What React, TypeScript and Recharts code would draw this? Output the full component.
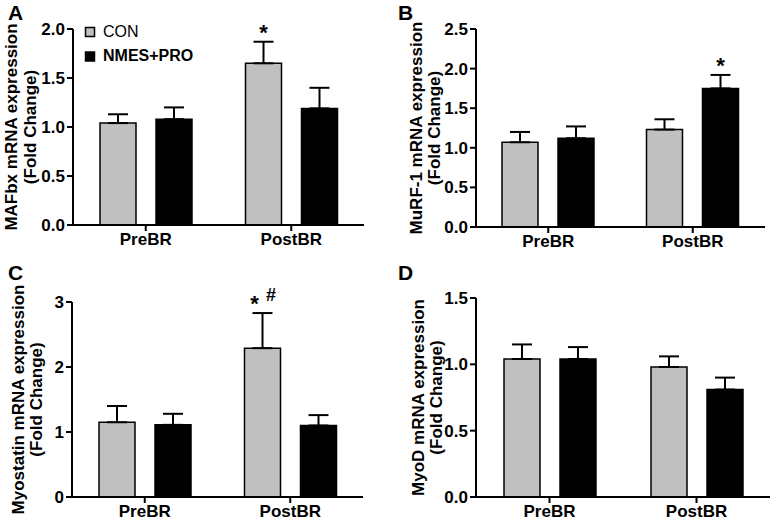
import { BarChart, Bar, XAxis, YAxis, ErrorBar, LabelList, Legend } from 'recharts';

const FONT = '"Liberation Sans", Arial, Helvetica, sans-serif';
const GRAY = '#c0c0c0';

const groups = ['PreBR', 'PostBR'];

// A - MAFbx
const mafbxCon = [1.04, 1.65];
const mafbxConSem = [0.09, 0.22];
const mafbxPro = [1.08, 1.19];
const mafbxProSem = [0.12, 0.21];
const mafbxConMarks = ['', '*'];
const mafbxProMarks = ['', ''];

// B - MuRF-1
const murfCon = [1.07, 1.23];
const murfConSem = [0.13, 0.13];
const murfPro = [1.12, 1.75];
const murfProSem = [0.15, 0.17];
const murfConMarks = ['', ''];
const murfProMarks = ['', '*'];

// C - Myostatin
const mstnCon = [1.15, 2.29];
const mstnConSem = [0.25, 0.54];
const mstnPro = [1.11, 1.1];
const mstnProSem = [0.17, 0.16];
const mstnConMarks = ['', '* #'];
const mstnProMarks = ['', ''];

// D - MyoD
const myodCon = [1.04, 0.98];
const myodConSem = [0.11, 0.08];
const myodPro = [1.04, 0.81];
const myodProSem = [0.09, 0.09];
const myodConMarks = ['', ''];
const myodProMarks = ['', ''];

const ticksA = [0, 0.5, 1, 1.5, 2];
const ticksB = [0, 0.5, 1, 1.5, 2, 2.5];
const ticksC = [0, 1, 2, 3];
const ticksD = [0, 0.5, 1, 1.5];

type Panel = {
  letter: string;
  title: string;
  con: number[];
  conSem: number[];
  pro: number[];
  proSem: number[];
  conMarks: string[];
  proMarks: string[];
  ticks: number[];
  decimals: number;
  left: number;
  top: number;
  width: number;
  height: number;
  margin: { top: number; right: number; bottom: number; left: number };
  titleX: [number, number];
  legend?: boolean;
};

const panels: Panel[] = [
  {
    letter: 'A', title: 'MAFbx mRNA expression',
    con: mafbxCon, conSem: mafbxConSem, pro: mafbxPro, proSem: mafbxProSem,
    conMarks: mafbxConMarks, proMarks: mafbxProMarks,
    ticks: ticksA, decimals: 1,
    left: 0, top: 0, width: 390, height: 260,
    margin: { top: 29, right: 26, bottom: 15, left: 13 },
    titleX: [17, 36], legend: true,
  },
  {
    letter: 'B', title: 'MuRF-1 mRNA expression',
    con: murfCon, conSem: murfConSem, pro: murfPro, proSem: murfProSem,
    conMarks: murfConMarks, proMarks: murfProMarks,
    ticks: ticksB, decimals: 1,
    left: 390, top: 0, width: 387, height: 260,
    margin: { top: 29, right: 12, bottom: 13, left: 26 },
    titleX: [32, 50],
  },
  {
    letter: 'C', title: 'Myostatin mRNA expression',
    con: mstnCon, conSem: mstnConSem, pro: mstnPro, proSem: mstnProSem,
    conMarks: mstnConMarks, proMarks: mstnProMarks,
    ticks: ticksC, decimals: 0,
    left: 0, top: 260, width: 390, height: 261,
    margin: { top: 42, right: 27, bottom: 4, left: 12 },
    titleX: [24, 42],
  },
  {
    letter: 'D', title: 'MyoD mRNA expression',
    con: myodCon, conSem: myodConSem, pro: myodPro, proSem: myodProSem,
    conMarks: myodConMarks, proMarks: myodProMarks,
    ticks: ticksD, decimals: 1,
    left: 390, top: 260, width: 387, height: 261,
    margin: { top: 38, right: 7, bottom: 4, left: 26 },
    titleX: [34, 51.5],
  },
];

// significance marks sit just above the error bar cap
function markRenderer(values: number[], sems: number[]) {
  return (props: any) => {
    const { x, y, width, height, value, index } = props;
    if (!value) return null;
    const capY = y - (sems[index] * height) / values[index];
    const cx = x + width / 2;
    const style = { fontFamily: FONT, fontWeight: 700, fill: '#000' };
    if (value === '* #') {
      return (
        <g>
          <text x={cx - 8} y={capY - 2} textAnchor="middle" fontSize={22} style={style}>*</text>
          <text x={cx + 8.5} y={capY - 12} textAnchor="middle" fontSize={18} style={style}>#</text>
        </g>
      );
    }
    return (
      <text x={cx} y={capY - 2} textAnchor="middle" fontSize={22} style={style}>
        {value}
      </text>
    );
  };
}

function renderLegend(props: any) {
  const items = props.payload || [];
  return (
    <svg width={130} height={45} style={{ display: 'block' }}>
      {items.map((entry: any, i: number) => (
        <g key={entry.value}>
          <rect x={1.5} y={3.5 + i * 24.5} width={9} height={9} fill={i === 0 ? GRAY : '#000'} stroke="#000" strokeWidth={1.5} />
          <text x={19} y={12.7 + i * 24.5} fontSize={16} fontWeight={i === 1 ? 700 : 400} fontFamily={FONT} fill="#000">
            {entry.value}
          </text>
        </g>
      ))}
    </svg>
  );
}

function AxisTitle({ viewBox, title, titleX }: any) {
  const cy = viewBox.y + viewBox.height / 2;
  const style = { fontFamily: FONT, fontWeight: 700, fontSize: 17, fill: '#000' };
  return (
    <g>
      <text x={titleX[0]} y={cy} textAnchor="middle" transform={`rotate(-90, ${titleX[0]}, ${cy})`} style={style}>
        {title}
      </text>
      <text x={titleX[1]} y={cy} textAnchor="middle" transform={`rotate(-90, ${titleX[1]}, ${cy})`} style={style}>
        (Fold Change)
      </text>
    </g>
  );
}

function PanelChart({ p }: { p: Panel }) {
  const data = groups.map((g, i) => ({
    group: g,
    con: p.con[i],
    conErr: [0, p.conSem[i]],
    pro: p.pro[i],
    proErr: [0, p.proSem[i]],
    conMark: p.conMarks[i],
    proMark: p.proMarks[i],
  }));
  const tickStyle = { fill: '#000', fontSize: 17, fontWeight: 700, fontFamily: FONT };
  const axisLine = { stroke: '#000', strokeWidth: 2 };
  return (
    <div style={{ position: 'absolute', left: p.left, top: p.top }}>
      <BarChart width={p.width} height={p.height} data={data} margin={p.margin} barSize={36} barGap={20}>
        <XAxis
          dataKey="group"
          height={20}
          tick={tickStyle}
          axisLine={axisLine}
          tickLine={axisLine}
          tickSize={6}
          interval={0}
        />
        <YAxis
          width={60}
          domain={[0, p.ticks[p.ticks.length - 1]]}
          ticks={p.ticks}
          tickFormatter={(v: number) => v.toFixed(p.decimals)}
          tick={tickStyle}
          axisLine={axisLine}
          tickLine={axisLine}
          tickSize={6}
          label={{ content: (lp: any) => <AxisTitle {...lp} title={p.title} titleX={p.titleX} /> }}
        />
        {p.legend && (
          <Legend
            layout="vertical"
            align="center"
            verticalAlign="middle"
            content={renderLegend}
            wrapperStyle={{ position: 'absolute', left: 84, top: 24, width: 130, height: 45 }}
          />
        )}
        <Bar dataKey="con" name="CON" fill={GRAY} stroke="#000" strokeWidth={1.5} isAnimationActive={false}>
          <ErrorBar dataKey="conErr" width={10} strokeWidth={2} stroke="#000" direction="y" />
          <LabelList dataKey="conMark" content={markRenderer(p.con, p.conSem)} />
        </Bar>
        <Bar dataKey="pro" name="NMES+PRO" fill="#000" stroke="#000" strokeWidth={1.5} isAnimationActive={false}>
          <ErrorBar dataKey="proErr" width={10} strokeWidth={2} stroke="#000" direction="y" />
          <LabelList dataKey="proMark" content={markRenderer(p.pro, p.proSem)} />
        </Bar>
      </BarChart>
    </div>
  );
}

export default function App() {
  return (
    <div style={{ position: 'absolute', left: 0, top: 0, width: 777, height: 521, background: '#fff', fontFamily: FONT }}>
      {panels.map((p) => (
        <PanelChart key={p.letter} p={p} />
      ))}
      <svg width={777} height={521} style={{ position: 'absolute', left: 0, top: 0, pointerEvents: 'none' }}>
        {panels.map((p) => (
          <text key={p.letter} x={p.left + 8} y={p.top + 20} fontSize={21} fontWeight={700} fontFamily={FONT} fill="#000">
            {p.letter}
          </text>
        ))}
      </svg>
    </div>
  );
}
